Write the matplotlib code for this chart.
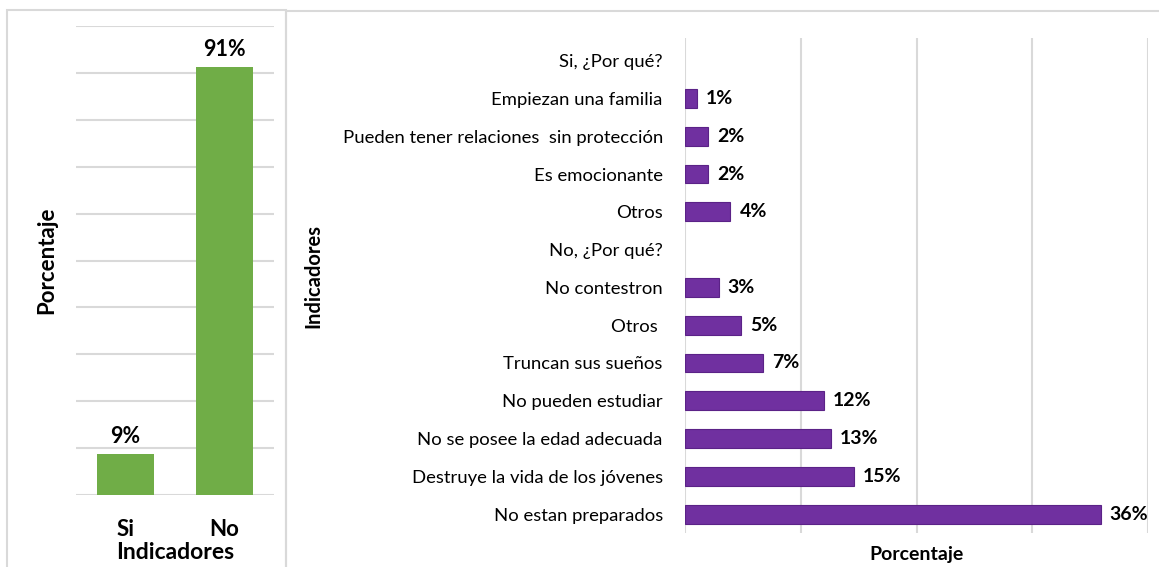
import matplotlib.pyplot as plt
from matplotlib.patches import Rectangle

plt.rcParams['font.family'] = ['Lato', 'DejaVu Sans']

# Left chart data
resp_cats = ['Si', 'No']
resp_vals = [8.8, 91.2]
resp_labels = ['9%', '91%']

# Right chart data (top to bottom)
motivos = ['Si, ¿Por qué?', 'Empiezan una familia', 'Pueden tener relaciones  sin protección',
           'Es emocionante', 'Otros', 'No, ¿Por qué?', 'No contestron', 'Otros ',
           'Truncan sus sueños', 'No pueden estudiar', 'No se posee la edad adecuada',
           'Destruye la vida de los jóvenes', 'No estan preparados']
motivo_vals = [0, 1.0, 2.0, 2.0, 3.9, 0, 2.9, 4.8, 6.7, 12.0, 12.6, 14.6, 35.9]
motivo_labels = ['', '1%', '2%', '2%', '4%', '', '3%', '5%', '7%', '12%', '13%', '15%', '36%']

W, H = 1159, 567
fig = plt.figure(figsize=(W / 100, H / 100), dpi=100)

grid_c = '#D9D9D9'

# panel borders
fig.patches.append(Rectangle((7 / W, -0.01), (286 - 7) / W, 1 - 10 / H + 0.01, transform=fig.transFigure,
                             fill=False, edgecolor=grid_c, lw=1.5))
fig.patches.append(Rectangle((286 / W, -0.01), 1 - 286 / W + 0.01, 1 - 11 / H + 0.01, transform=fig.transFigure,
                             fill=False, edgecolor=grid_c, lw=1.5))

# ---- left chart ----
ax1 = fig.add_axes([76 / W, 1 - 495 / H, (274 - 76) / W, (495 - 26) / H])
x = range(len(resp_cats))
ax1.bar(x, resp_vals, width=0.58, color='#70AD47', zorder=3)
for i, v in enumerate(resp_vals):
    ax1.text(i, v + 1.5, resp_labels[i], ha='center', va='bottom', fontsize=15.5, fontweight='bold')
ax1.set_ylim(0, 100)
ax1.set_xlim(-0.5, 1.5)
ax1.set_yticks(range(0, 101, 10))
ax1.set_yticklabels([])
ax1.set_xticks(list(x))
ax1.set_xticklabels(resp_cats, fontsize=16, fontweight='bold')
ax1.tick_params(length=0, pad=17)
ax1.grid(axis='y', color=grid_c, lw=1.5, zorder=0)
for s in ax1.spines.values():
    s.set_visible(False)
ax1.set_xlabel('Indicadores', fontsize=16.5, fontweight='bold')
ax1.xaxis.set_label_coords(0.5, -(542 - 495) / 469)
ax1.set_ylabel('Porcentaje', fontsize=16, fontweight='bold')
ax1.yaxis.set_label_coords(-(76 - 45) / 198 + 0.06, 0.5)

# ---- right chart ----
ax2 = fig.add_axes([685 / W, 1 - 533 / H, (1148 - 685) / W, (533 - 38) / H])
y = range(len(motivos))
ax2.barh(y, motivo_vals, height=0.5, color='#7030A0',
         edgecolor=['#5B2287' if v > 0 else 'none' for v in motivo_vals], lw=0.8, zorder=3)
for i, v in enumerate(motivo_vals):
    if motivo_labels[i]:
        ax2.text(v + 0.8, i, motivo_labels[i], ha='left', va='center', fontsize=14, fontweight='bold')
ax2.set_xlim(0, 40)
ax2.set_ylim(len(motivos) - 0.5, -0.6)
ax2.set_xticks(range(0, 41, 10))
ax2.set_xticklabels([])
ax2.set_yticks(list(y))
ax2.set_yticklabels(motivos, fontsize=13.3)
ax2.tick_params(length=0, pad=16)
ax2.grid(axis='x', color=grid_c, lw=1.5, zorder=0)
for s in ax2.spines.values():
    s.set_visible(False)
ax2.set_xlabel('Porcentaje', fontsize=14, fontweight='bold')
ax2.xaxis.set_label_coords(0.5, -(546 - 533) / 495)
ax2.set_ylabel('Indicadores', fontsize=14.5, fontweight='bold')
ax2.yaxis.set_label_coords(-(685 - 323) / 463, 0.52)

fig.savefig('out.png', dpi=100)
